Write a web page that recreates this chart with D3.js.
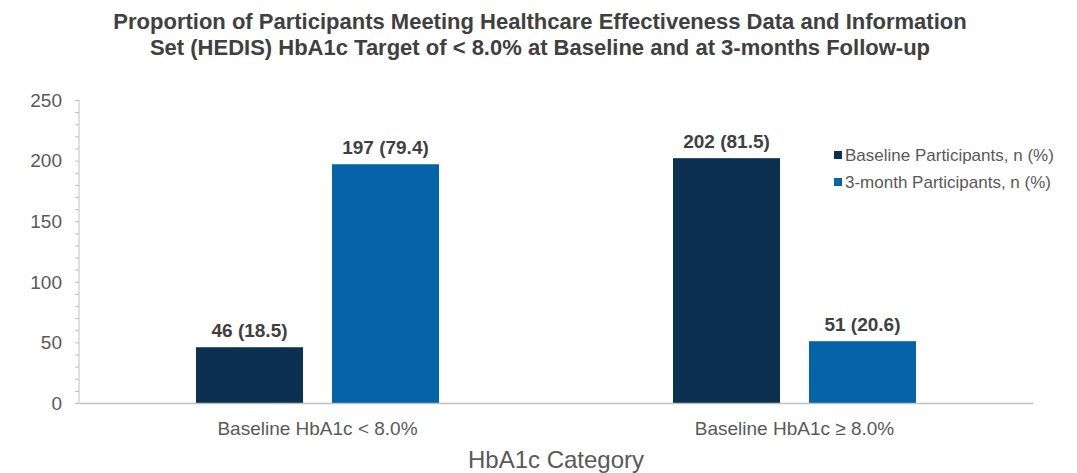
<!DOCTYPE html>
<html>
<head>
<meta charset="utf-8">
<script src="https://cdn.jsdelivr.net/npm/d3@7"></script>
<style>
  html, body { margin: 0; padding: 0; background: #fff; }
  svg { display: block; font-family: "Liberation Sans", Arial, sans-serif; }
</style>
</head>
<body>
<svg id="chart" width="1077" height="473"></svg>
<script>
// HbA1c categories and participant counts per time point
const categories = ["Baseline HbA1c < 8.0%", "Baseline HbA1c \u2265 8.0%"];
const seriesNames = ["Baseline Participants, n (%)", "3-month Participants, n (%)"];
const baselineCounts = [46, 202];
const baselinePct = [18.5, 81.5];
const followupCounts = [197, 51];
const followupPct = [79.4, 20.6];
const yTicks = [0, 50, 100, 150, 200, 250];
const titleLines = [
  "Proportion of Participants Meeting Healthcare Effectiveness Data and Information",
  "Set (HEDIS) HbA1c Target of < 8.0% at Baseline and at 3-months Follow-up"
];
const xTitle = "HbA1c Category";

const colors = ["#0b3050", "#0563a8"];
const textGray = "#595959";

const svg = d3.select("#chart");
const W = 1077;
const x0 = 79, x1 = 1033;
const yBottom = 403, yTop = 100;

const x = d3.scaleBand().domain(categories).range([x0, x1]);
const xs = d3.scaleBand().domain(seriesNames).range([0, 243]).paddingInner(0.213);
const y = d3.scaleLinear().domain([0, 250]).range([yBottom, yTop]);

// Title
svg.append("g").selectAll("text").data(titleLines).join("text")
  .attr("x", 540).attr("y", (d, i) => 29 + i * 26)
  .attr("text-anchor", "middle")
  .attr("font-size", 22).attr("font-weight", "bold").attr("fill", "#404040")
  .text(d => d);

// Y axis with minor ticks every 10
const yAxisG = svg.append("g").attr("transform", `translate(${x0},0)`);
yAxisG.call(d3.axisLeft(y).tickValues(d3.range(0, 251, 10)).tickSize(4).tickFormat(""));
yAxisG.selectAll("path, line").attr("stroke", "#bfbfbf");
yAxisG.select(".domain").attr("d", `M0,${yTop}V${yBottom}`);
yAxisG.append("g").selectAll("text").data(yTicks).join("text")
  .attr("x", -17).attr("y", d => y(d)).attr("dy", "0.36em")
  .attr("text-anchor", "end").attr("font-size", 19).attr("fill", textGray)
  .text(d => d);

// Bars
const rows = categories.map((c, i) => ({
  cat: c,
  vals: [
    { s: seriesNames[0], n: baselineCounts[i], p: baselinePct[i], k: 0 },
    { s: seriesNames[1], n: followupCounts[i], p: followupPct[i], k: 1 }
  ]
}));

const groups = svg.append("g").selectAll("g").data(rows).join("g")
  .attr("transform", d => `translate(${x(d.cat) + (x.bandwidth() - 243) / 2},0)`);

groups.selectAll("rect").data(d => d.vals).join("rect")
  .attr("x", d => xs(d.s)).attr("width", xs.bandwidth())
  .attr("y", d => y(d.n)).attr("height", d => y(0) - y(d.n))
  .attr("fill", d => colors[d.k]);

groups.selectAll("text").data(d => d.vals).join("text")
  .attr("x", d => xs(d.s) + xs.bandwidth() / 2).attr("y", d => y(d.n) - 10)
  .attr("text-anchor", "middle").attr("font-size", 19).attr("font-weight", "bold")
  .attr("fill", "#404040")
  .text(d => `${d.n} (${d.p})`);

// X axis
const xAxisG = svg.append("g").attr("transform", `translate(0,${yBottom})`);
xAxisG.call(d3.axisBottom(x).tickSize(0).tickFormat(""));
xAxisG.select(".domain").attr("stroke", "#bfbfbf").attr("stroke-width", 1.3);
xAxisG.selectAll(".tick").append("text")
  .attr("y", 32).attr("text-anchor", "middle")
  .attr("font-size", 19).attr("fill", textGray)
  .attr("font-family", "'Liberation Sans', Arial, sans-serif")
  .text(d => d);

svg.append("text").attr("x", (x0 + x1) / 2).attr("y", 468)
  .attr("text-anchor", "middle").attr("font-size", 24).attr("fill", textGray)
  .text(xTitle);

// Legend
const legend = svg.append("g").attr("transform", "translate(834,155)");
const li = legend.selectAll("g").data(seriesNames).join("g")
  .attr("transform", (d, i) => `translate(0,${i * 27})`);
li.append("rect").attr("x", 0).attr("y", -4).attr("width", 8).attr("height", 8)
  .attr("fill", (d, i) => colors[i]);
li.append("text").attr("x", 11).attr("y", 0).attr("dy", "0.36em")
  .attr("font-size", 17).attr("fill", textGray).text(d => d);
</script>
</body>
</html>
